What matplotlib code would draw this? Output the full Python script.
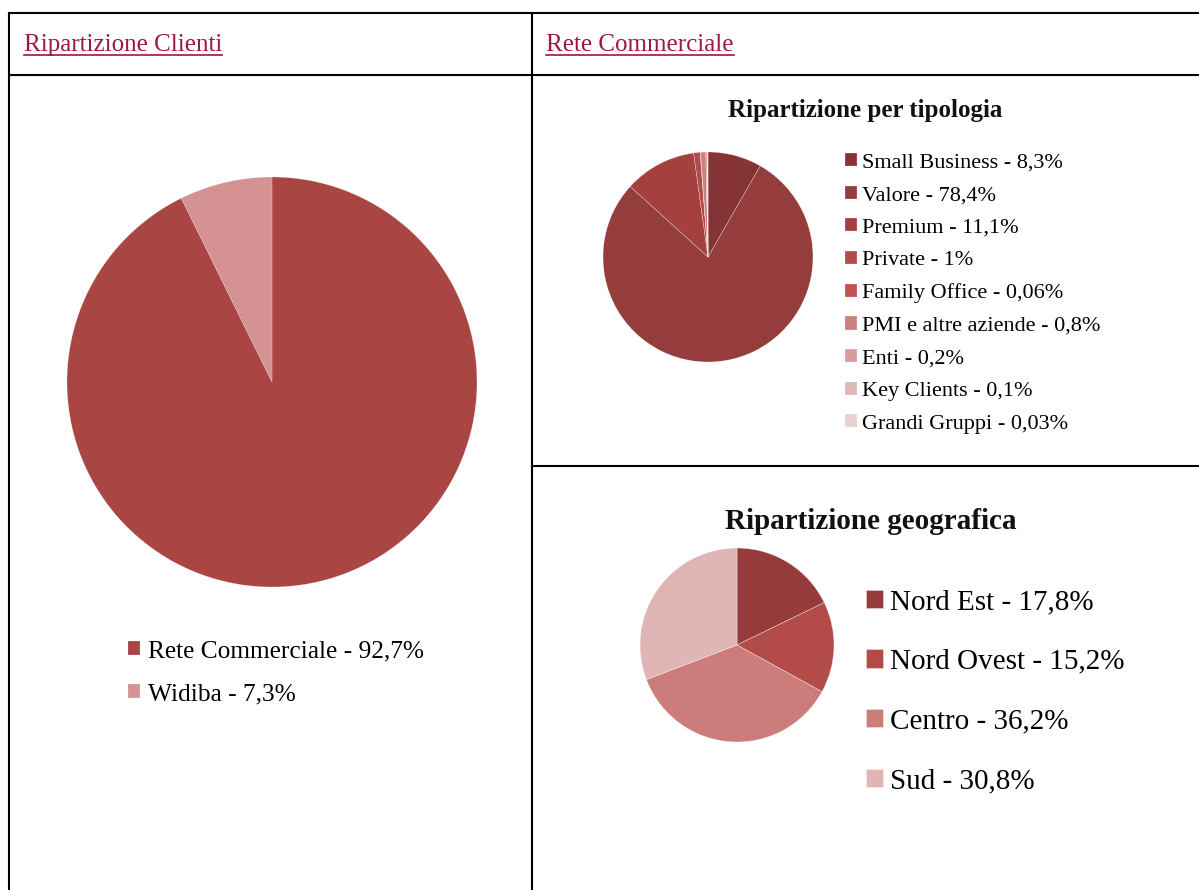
import matplotlib
matplotlib.use("Agg")
import matplotlib.pyplot as plt

plt.rcParams['font.family'] = ['Liberation Serif', 'DejaVu Serif']

# dati
clienti_labels = ["Rete Commerciale - 92,7%", "Widiba - 7,3%"]
clienti_values = [92.7, 7.3]
clienti_colors = ["#A94644", "#D49392"]

tipo_labels = ["Small Business - 8,3%", "Valore - 78,4%", "Premium - 11,1%",
               "Private - 1%", "Family Office - 0,06%", "PMI e altre aziende - 0,8%",
               "Enti - 0,2%", "Key Clients - 0,1%", "Grandi Gruppi - 0,03%"]
tipo_values = [8.3, 78.4, 11.1, 1.0, 0.06, 0.8, 0.2, 0.1, 0.03]
tipo_colors = ["#863336", "#953C3C", "#A4413F", "#B34B49", "#C0524F",
               "#CD817F", "#D79D9C", "#E0B8B7", "#E9D0D0"]

geo_labels = ["Nord Est - 17,8%", "Nord Ovest - 15,2%", "Centro - 36,2%", "Sud - 30,8%"]
geo_values = [17.8, 15.2, 36.2, 30.8]
geo_colors = ["#953B3B", "#B34B49", "#CC7C7B", "#DFB6B5"]

W, H = 1199, 890
fig = plt.figure(figsize=(W / 100, H / 100), dpi=100)
fig.patch.set_facecolor("white")

# asse di sfondo in pixel (y verso il basso) per la tabella
ov = fig.add_axes([0, 0, 1, 1])
ov.set_xlim(0, W)
ov.set_ylim(H, 0)
ov.axis("off")

lw = 1.5
ov.plot([9, W], [13, 13], color="black", lw=lw)
ov.plot([9, W], [75, 75], color="black", lw=lw)
ov.plot([9, 9], [13, H], color="black", lw=lw)
ov.plot([532, 532], [13, H], color="black", lw=lw)
ov.plot([532, W], [466, 466], color="black", lw=lw)

link_color = "#A0173D"
t1 = ov.text(24, 51, "Ripartizione Clienti", color=link_color, fontsize=18, va="baseline")
t2 = ov.text(546, 51, "Rete Commerciale", color=link_color, fontsize=18, va="baseline")


def pie_axes(cx, cy, r):
    return fig.add_axes([(cx - r) / W, (H - cy - r) / H, 2 * r / W, 2 * r / H])


def draw_pie(ax, values, colors, ew):
    wedges, _ = ax.pie(values, colors=colors, startangle=90, counterclock=False,
                       wedgeprops=dict(edgecolor=(1, 1, 1, 0.6), linewidth=ew))
    ax.set_xlim(-1, 1)
    ax.set_ylim(-1, 1)
    ax.set_aspect("equal")
    ax.axis("off")
    return wedges


# Ripartizione Clienti
ax1 = pie_axes(272, 382, 205)
w1 = draw_pie(ax1, clienti_values, clienti_colors, 0.2)
ax1.legend(w1, clienti_labels, loc="upper left", bbox_to_anchor=(128, 640),
           bbox_transform=ov.transData, frameon=False, fontsize=18.3, borderpad=0,
           handlelength=0.47, handleheight=0.47, handletextpad=0.31, labelspacing=0.83,
           borderaxespad=0)

# Ripartizione per tipologia
ax2 = pie_axes(708, 257, 105)
w2 = draw_pie(ax2, tipo_values, tipo_colors, 0.3)
ov.text(865, 117, "Ripartizione per tipologia", fontsize=18, fontweight="bold",
        ha="center", va="baseline", color="#111111")
ax2.legend(w2, tipo_labels, loc="upper left", bbox_to_anchor=(845, 153),
           bbox_transform=ov.transData, frameon=False, fontsize=16, borderpad=0,
           handlelength=0.54, handleheight=0.54, handletextpad=0.22, labelspacing=0.59,
           borderaxespad=0)

# Ripartizione geografica
ax3 = pie_axes(737, 645, 97)
w3 = draw_pie(ax3, geo_values, geo_colors, 0.4)
ov.text(871, 529, "Ripartizione geografica", fontsize=21, fontweight="bold",
        ha="center", va="baseline", color="#111111")
ax3.legend(w3, geo_labels, loc="upper left", bbox_to_anchor=(866, 589),
           bbox_transform=ov.transData, frameon=False, fontsize=21, borderpad=0,
           handlelength=0.58, handleheight=0.58, handletextpad=0.24, labelspacing=1.16,
           borderaxespad=0)

# sottolineatura dei link
fig.canvas.draw()
inv = ov.transData.inverted()
for t in (t1, t2):
    bb = t.get_window_extent()
    (x0, y0), (x1, y1) = inv.transform([[bb.x0, bb.y0], [bb.x1, bb.y1]])
    ov.plot([x0, x1], [55, 55], color=link_color, lw=1.2)

fig.savefig("out.png", dpi=100)
